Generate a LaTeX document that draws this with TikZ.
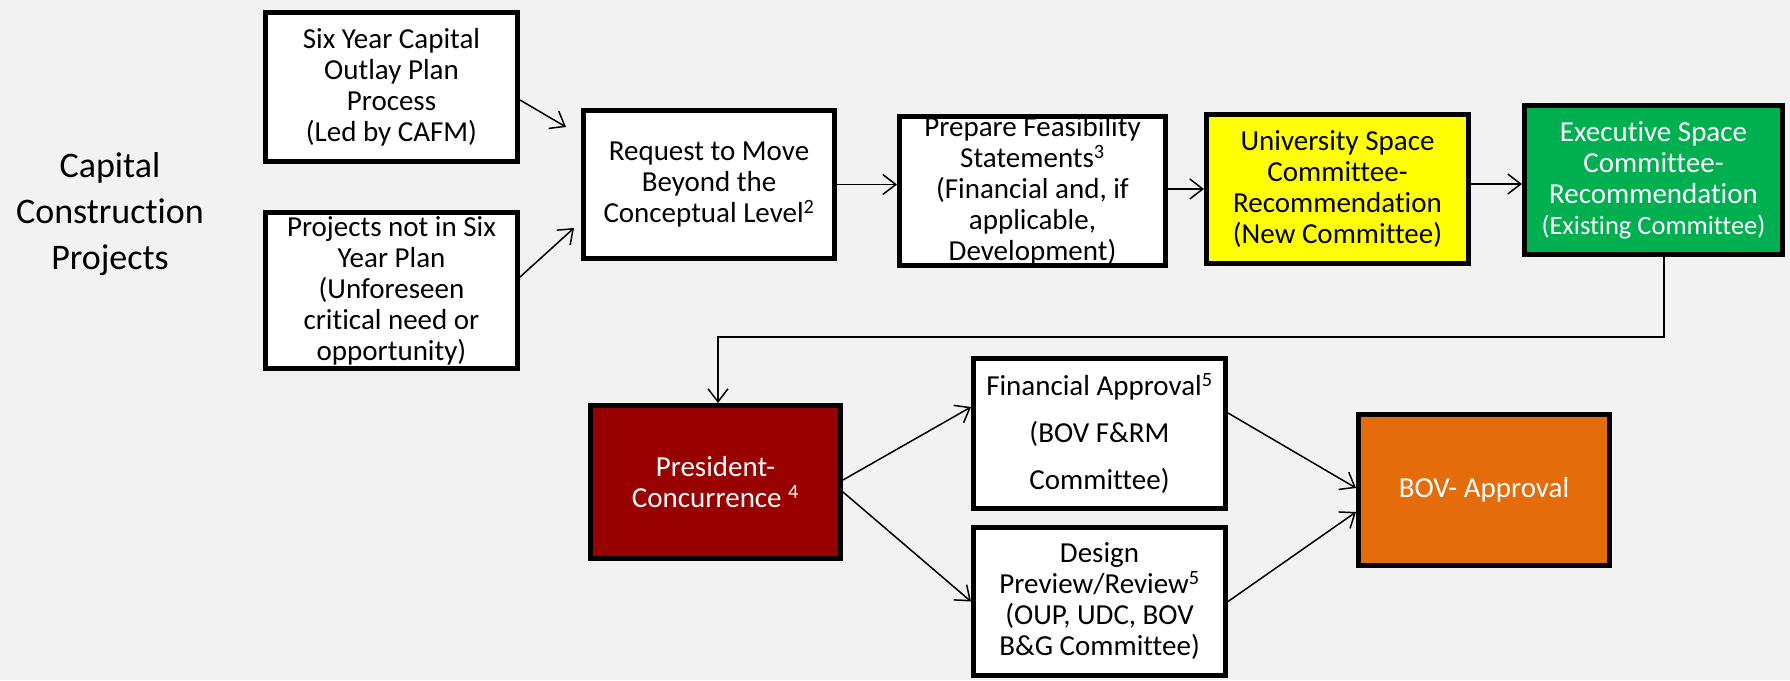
\documentclass[tikz,border=0pt]{standalone}
\usepackage{fontspec}
\setmainfont{Carlito}[RawFeature={-liga}]
\usetikzlibrary{arrows.meta}
\definecolor{bg}{HTML}{F2F2F2}
\definecolor{ylw}{HTML}{FFFF00}
\definecolor{grn}{HTML}{00B050}
\definecolor{dred}{HTML}{990000}
\definecolor{orng}{HTML}{E46C0A}
\tikzset{
  box/.style={draw=black, line width=5pt, fill=white, inner sep=0pt, align=center,
    font=\fontsize{29}{31}\selectfont, text=black},
  arr/.style={line width=1.5pt, -{Straight Barb[length=13pt,width=20pt,line width=1.5pt]}},
  plain/.style={line width=1.5pt}
}
\begin{document}
\begin{tikzpicture}[x=1pt,y=-1pt]
\useasboundingbox[fill=bg] (0,0) rectangle (1790,680);

\node[align=center, font=\fontsize{36}{46}\selectfont] (title) at (110,214) {Capital\\Construction\\Projects};

\node[box, minimum width=252pt, minimum height=149pt] (A) at (391.5,87) {Six Year Capital\\Outlay Plan\\Process\\(Led by CAFM)};
\node[box, minimum width=252pt, minimum height=156pt] (B) at (391.5,290.5) {Projects not in Six\\Year Plan\\(Unforeseen\\critical need or\\opportunity)};
\node[box, minimum width=251pt, minimum height=148pt] (C) at (709,184.5) {Request to Move\\Beyond the\\Conceptual Level\textsuperscript{2}};
\node[box, minimum width=266pt, minimum height=149pt] (D) at (1032.5,191) {Prepare Feasibility\\Statements\textsuperscript{3}\\(Financial and, if\\applicable,\\Development)};
\node[box, fill=ylw, minimum width=262pt, minimum height=149pt] (E) at (1337.5,189) {University Space\\Committee-\\Recommendation\\(New Committee)};
\node[box, fill=grn, text=white, minimum width=258pt, minimum height=149pt] (F) at (1653.5,180) {Executive Space\\Committee-\\Recommendation\\{\fontsize{26.5}{31}\selectfont(Existing Committee)}};
\node[box, fill=dred, text=white, minimum width=250pt, minimum height=153pt] (G) at (715.5,482) {President-\\Concurrence \textsuperscript{4}};
\node[box, font=\fontsize{29}{47}\selectfont, minimum width=252pt, minimum height=150pt] (H) at (1099.5,433.5) {Financial Approval\textsuperscript{5}\\(BOV F\&RM\\Committee)};
\node[box, minimum width=252pt, minimum height=148pt] (I) at (1099.5,601.5) {Design\\Preview/Review\textsuperscript{5}\\(OUP, UDC, BOV\\B\&G Committee)};
\node[box, fill=orng, text=white, minimum width=251pt, minimum height=151pt] (J) at (1484,490) {BOV- Approval};

\draw[arr] ([yshift=-13pt]A.east) -- ([xshift=-15pt,yshift=57.5pt]C.west);
\draw[arr] ([yshift=13.5pt]B.east) -- ([xshift=-7pt,yshift=-43.5pt]C.west);
\draw[arr] (C.east) -- (C.east -| D.west);
\draw[arr] (E.west -| D.east) -- (E.west);
\draw[arr] ([yshift=5pt]E.east) -- ([yshift=5pt]E.east -| F.west);
\coordinate (turn) at (1664,337);
\draw[arr] ([xshift=10.5pt]F.south) -- (turn) -| ([xshift=2.5pt]G.north);
\draw[arr] ([yshift=2pt]G.east) -- ([yshift=26.5pt]H.west);
\draw[arr] ([yshift=-10pt]G.east) -- (I.west);
\draw[arr] ([yshift=20.5pt]H.east) -- ([yshift=2pt]J.west);
\draw[arr] (I.east) -- ([yshift=-22pt]J.west);
\end{tikzpicture}
\end{document}
